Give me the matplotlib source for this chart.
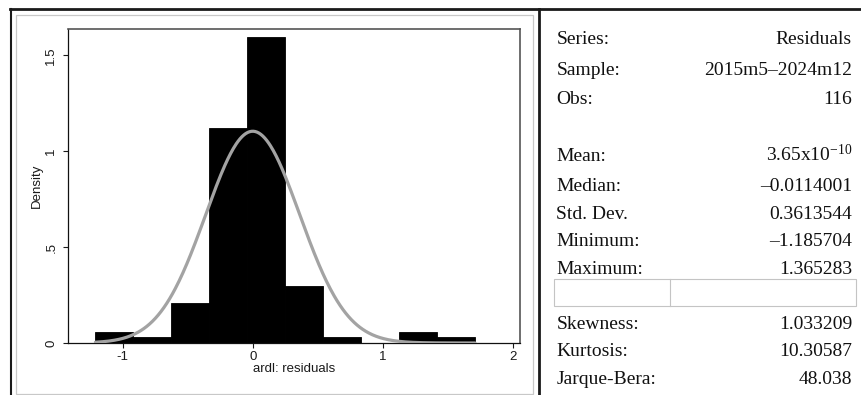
import numpy as np
import matplotlib
matplotlib.use("Agg")
import matplotlib.pyplot as plt
from matplotlib.lines import Line2D
from matplotlib.patches import Rectangle

plt.rcParams['font.family'] = ['Liberation Sans', 'DejaVu Sans']
plt.rcParams['mathtext.fontset'] = 'custom'
plt.rcParams['mathtext.rm'] = 'Liberation Serif'
plt.rcParams['mathtext.it'] = 'Liberation Serif:italic'

# ---- histogram of the ardl residuals (10 bins) ----
bin_start = -1.21
bin_width = 0.292
bin_counts = [2, 1, 7, 38, 54, 10, 1, 0, 2, 1]

x_ticks = [-1, 0, 1, 2]
y_ticks = [0, 0.5, 1, 1.5]
y_tick_labels = ['0', '.5', '1', '1.5']

# ---- descriptive statistics table ----
stat_names = ['Series:', 'Sample:', 'Obs:',
              'Mean:', 'Median:', 'Std. Dev.', 'Minimum:', 'Maximum:',
              'Skewness:', 'Kurtosis:', 'Jarque-Bera:']
stat_values = ['Residuals', '2015m5\u20132024m12', '116',
               r'3.65x10$^{\mathrm{-10}}$', '\u20130.0114001', '0.3613544',
               '\u20131.185704', '1.365283',
               '1.033209', '10.30587', '48.038']
resid_mean = 0.0
resid_sd = 0.3613544

# text baselines (pixels from top)
row_base = [43.5, 75, 104, 161, 191, 219, 246, 274, 329, 356, 384]

W, H = 862, 395
fig = plt.figure(figsize=(W / 100, H / 100), dpi=100)


def fx(x):
    return x / W


def fy(y):
    return 1 - y / H


# ---- left panel: histogram with normal density ----
ax = fig.add_axes([fx(68), fy(343), fx(520) - fx(68), fy(29) - fy(343)])

edges = bin_start + bin_width * np.arange(len(bin_counts) + 1)
centers = (edges[:-1] + edges[1:]) / 2
ax.hist(centers, bins=edges, weights=bin_counts, density=True,
        color='black', edgecolor='black', linewidth=0.6, zorder=2)

xs = np.linspace(edges[0], edges[-1], 400)
pdf = np.exp(-0.5 * ((xs - resid_mean) / resid_sd) ** 2) / (resid_sd * np.sqrt(2 * np.pi))
ax.plot(xs, pdf, color='#a3a3a3', linewidth=2.3, solid_capstyle='round', zorder=3)

ax.set_xlim(-1.421, 2.056)
ax.set_ylim(0, 1.637)
ax.set_xticks(x_ticks)
ax.set_xticklabels([str(t) for t in x_ticks])
ax.set_yticks(y_ticks)
ax.set_yticklabels(y_tick_labels)
ax.tick_params(axis='both', direction='out', length=3.6, width=0.8,
               labelsize=9.5, colors='#1a1a1a')
ax.tick_params(axis='x', pad=2.0)
ax.tick_params(axis='y', pad=4.0, labelrotation=90)
for lab in ax.get_yticklabels():
    lab.set_va('center')

for side in ['left', 'bottom']:
    ax.spines[side].set_color('#111111')
    ax.spines[side].set_linewidth(0.9)
for side in ['top', 'right']:
    ax.spines[side].set_color('#555555')
    ax.spines[side].set_linewidth(1.2)

ax.set_xlabel('ardl: residuals', fontsize=9.5, color='#1a1a1a', labelpad=0)
ax.set_ylabel('Density', fontsize=9.5, color='#1a1a1a', labelpad=2)

# ---- frames ----
fig.add_artist(Rectangle((fx(16.5), fy(394)), fx(533) - fx(16.5), fy(15) - fy(394),
                         transform=fig.transFigure, fill=False,
                         edgecolor='#c8c8c8', linewidth=0.9))
fig.add_artist(Line2D([fx(10), fx(862)], [fy(8.7), fy(8.7)],
                      transform=fig.transFigure, color='#1a1a1a', linewidth=2.0))
fig.add_artist(Line2D([fx(11.5), fx(11.5)], [fy(8.7), fy(395)],
                      transform=fig.transFigure, color='#1a1a1a', linewidth=1.5))
fig.add_artist(Line2D([fx(538.7), fx(538.7)], [fy(8.7), fy(395)],
                      transform=fig.transFigure, color='#1a1a1a', linewidth=2.0))

# empty separator row in the table
fig.add_artist(Rectangle((fx(554), fy(306)), fx(856) - fx(554), fy(279.3) - fy(306),
                         transform=fig.transFigure, fill=False,
                         edgecolor='#c4c4c4', linewidth=0.8))
fig.add_artist(Line2D([fx(670), fx(670)], [fy(279.3), fy(306)],
                      transform=fig.transFigure, color='#c4c4c4', linewidth=0.8))

# ---- right panel: statistics ----
for name, val, yb in zip(stat_names, stat_values, row_base):
    fig.text(fx(556.5), fy(yb), name, family='Liberation Serif', fontsize=14,
             color='#111111', ha='left', va='baseline')
    fig.text(fx(852), fy(yb), val, family='Liberation Serif', fontsize=14,
             color='#111111', ha='right', va='baseline')

fig.savefig('out.png', dpi=100)
